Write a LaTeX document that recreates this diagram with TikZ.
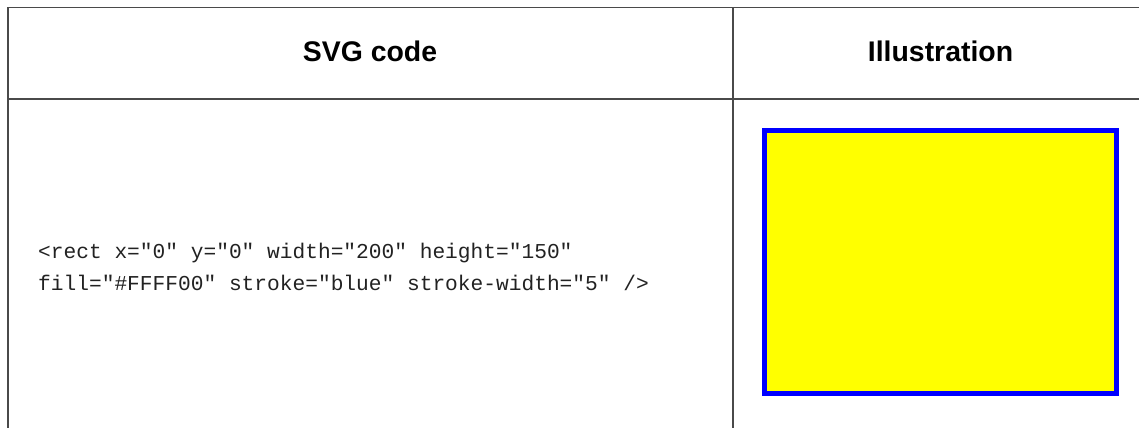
\documentclass[tikz,border=0pt]{standalone}
\usepackage{fontspec}
\setmainfont{Liberation Sans}
\newfontfamily\codefont{Liberation Mono}
\definecolor{gridline}{HTML}{4A4A4A}
\definecolor{codetext}{HTML}{222222}
\definecolor{svgblue}{HTML}{0000FF}
\definecolor{svgyellow}{HTML}{FFFF00}
\tikzset{
  gridrule/.style={draw=gridline, line width=1.4pt},
  headtext/.style={anchor=base, inner sep=0pt, font=\bfseries\fontsize{28.4}{34}\selectfont},
  codeline/.style={anchor=base west, inner sep=0pt, text=codetext, font=\codefont\fontsize{21.2}{26}\selectfont},
  demorect/.style={fill=svgyellow, draw=svgblue, line width=4.6pt}
}
\begin{document}
\begin{tikzpicture}[x=1pt,y=-1pt]
\useasboundingbox (0,0) rectangle (1139,428);
% table rules
\draw[gridrule] (8,7.5) -- (1139,7.5);
\draw[gridrule] (8,7.5) -- (8,428);
\draw[gridrule] (8,99) -- (1139,99);
\draw[gridrule] (733,7.5) -- (733,428);
% headers
\node[headtext] (h1) at (370,62) {SVG code};
\node[headtext] (h2) at (940.5,62) {Illustration};
% code
\node[codeline] (c1) at (38,258) {<rect x="0" y="0" width="200" height="150"};
\node[codeline] (c2) at (38,290) {fill="\#FFFF00" stroke="blue" stroke-width="5" />};
% illustration
\draw[demorect] (764.5,130.5) rectangle (1116.5,393.5);
\end{tikzpicture}
\end{document}
